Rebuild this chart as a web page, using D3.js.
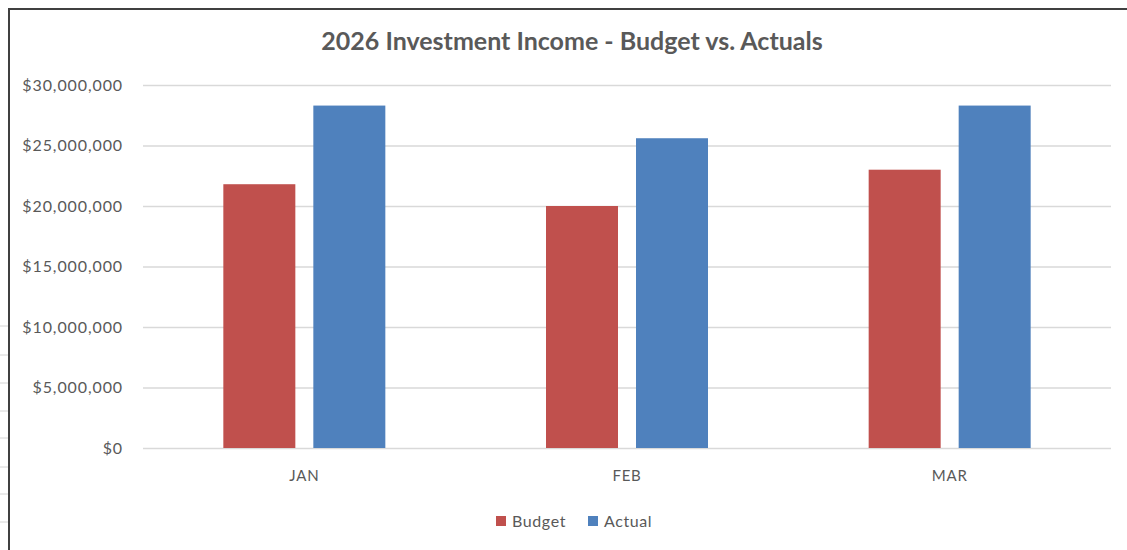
<!DOCTYPE html>
<html lang="en">
<head>
<meta charset="UTF-8">
<title>2026 Investment Income</title>
<script src="https://cdn.jsdelivr.net/npm/d3@7"></script>
<style>
    body { margin: 0; background: #fff; }
    svg text { font-family: Lato, "Open Sans", sans-serif; fill: #595959; }
</style>
</head>
<body>
<svg width="1127" height="550"></svg>
<script>
    var months = ['JAN', 'FEB', 'MAR'];
    var seriesNames = ['Budget', 'Actual'];
    var budget = [21800000, 20000000, 23000000];
    var actual = [28300000, 25600000, 28300000];
    var yTicks = [0, 5000000, 10000000, 15000000, 20000000, 25000000, 30000000];
    var colors = ['#C0504D', '#4F81BD'];

    var svg = d3.select('svg');

    // spreadsheet rows peeking out left of the chart frame
    var rowLines = [326, 355, 383, 411, 438, 467, 494, 522];
    svg.selectAll('.row').data(rowLines).enter().append('line')
        .attr('x1', 0).attr('x2', 8)
        .attr('y1', function (d) { return d; }).attr('y2', function (d) { return d; })
        .attr('stroke', '#d4d4d4').attr('stroke-width', 1);

    // chart frame
    svg.append('path')
        .attr('d', 'M9,551 V9 H1128')
        .attr('fill', 'none').attr('stroke', '#404040').attr('stroke-width', 2);

    var plotLeft = 143, plotRight = 1111, plotTop = 85, plotBottom = 448;

    var x0 = d3.scaleBand().domain(months).range([plotLeft, plotRight]);
    var groupW = 162;
    var x1 = d3.scaleBand().domain(seriesNames).range([0, groupW]).paddingInner(0.2);
    var y = d3.scaleLinear().domain([0, 30000000]).range([plotBottom, plotTop]);

    // gridlines + y labels
    var yAxis = d3.axisLeft(y).tickValues(yTicks).tickSize(-(plotRight - plotLeft)).tickPadding(20)
        .tickFormat(function (d) { return '$' + d3.format(',')(d); });
    var gy = svg.append('g').attr('transform', 'translate(' + plotLeft + ',0)').call(yAxis);
    gy.select('.domain').remove();
    gy.selectAll('line').attr('stroke', '#d9d9d9').attr('stroke-width', 1.5);
    gy.selectAll('text').attr('font-size', 16).attr('letter-spacing', 0.9).attr('fill', '#595959');

    // bars
    var groups = svg.selectAll('.grp').data(months).enter().append('g')
        .attr('transform', function (d) {
            return 'translate(' + (x0(d) + (x0.bandwidth() - groupW) / 2) + ',0)';
        });
    groups.selectAll('rect').data(function (d, i) {
        return [{ s: 'Budget', v: budget[i], c: colors[0] }, { s: 'Actual', v: actual[i], c: colors[1] }];
    }).enter().append('rect')
        .attr('x', function (d) { return x1(d.s); })
        .attr('y', function (d) { return y(d.v); })
        .attr('width', x1.bandwidth())
        .attr('height', function (d) { return plotBottom - y(d.v); })
        .attr('fill', function (d) { return d.c; });

    // x labels
    var xAxis = d3.axisBottom(x0).tickSize(0).tickPadding(22);
    var gx = svg.append('g').attr('transform', 'translate(0,' + plotBottom + ')').call(xAxis);
    gx.select('.domain').remove();
    gx.selectAll('text').attr('font-size', 15).attr('letter-spacing', 0.8).attr('fill', '#595959');

    // title
    svg.append('text')
        .attr('x', 572).attr('y', 50)
        .attr('text-anchor', 'middle')
        .attr('font-size', 25).attr('font-weight', 'bold')
        .text('2026 Investment Income - Budget vs. Actuals');

    // legend
    var legendX = [496, 588];
    var lg = svg.selectAll('.lg').data(seriesNames).enter().append('g')
        .attr('transform', function (d, i) { return 'translate(' + legendX[i] + ',516)'; });
    lg.append('rect').attr('width', 10).attr('height', 10)
        .attr('fill', function (d, i) { return colors[i]; });
    lg.append('text').attr('x', 16).attr('y', 10.5)
        .attr('font-size', 16).attr('letter-spacing', 0.6)
        .text(function (d) { return d; });
</script>
</body>
</html>
